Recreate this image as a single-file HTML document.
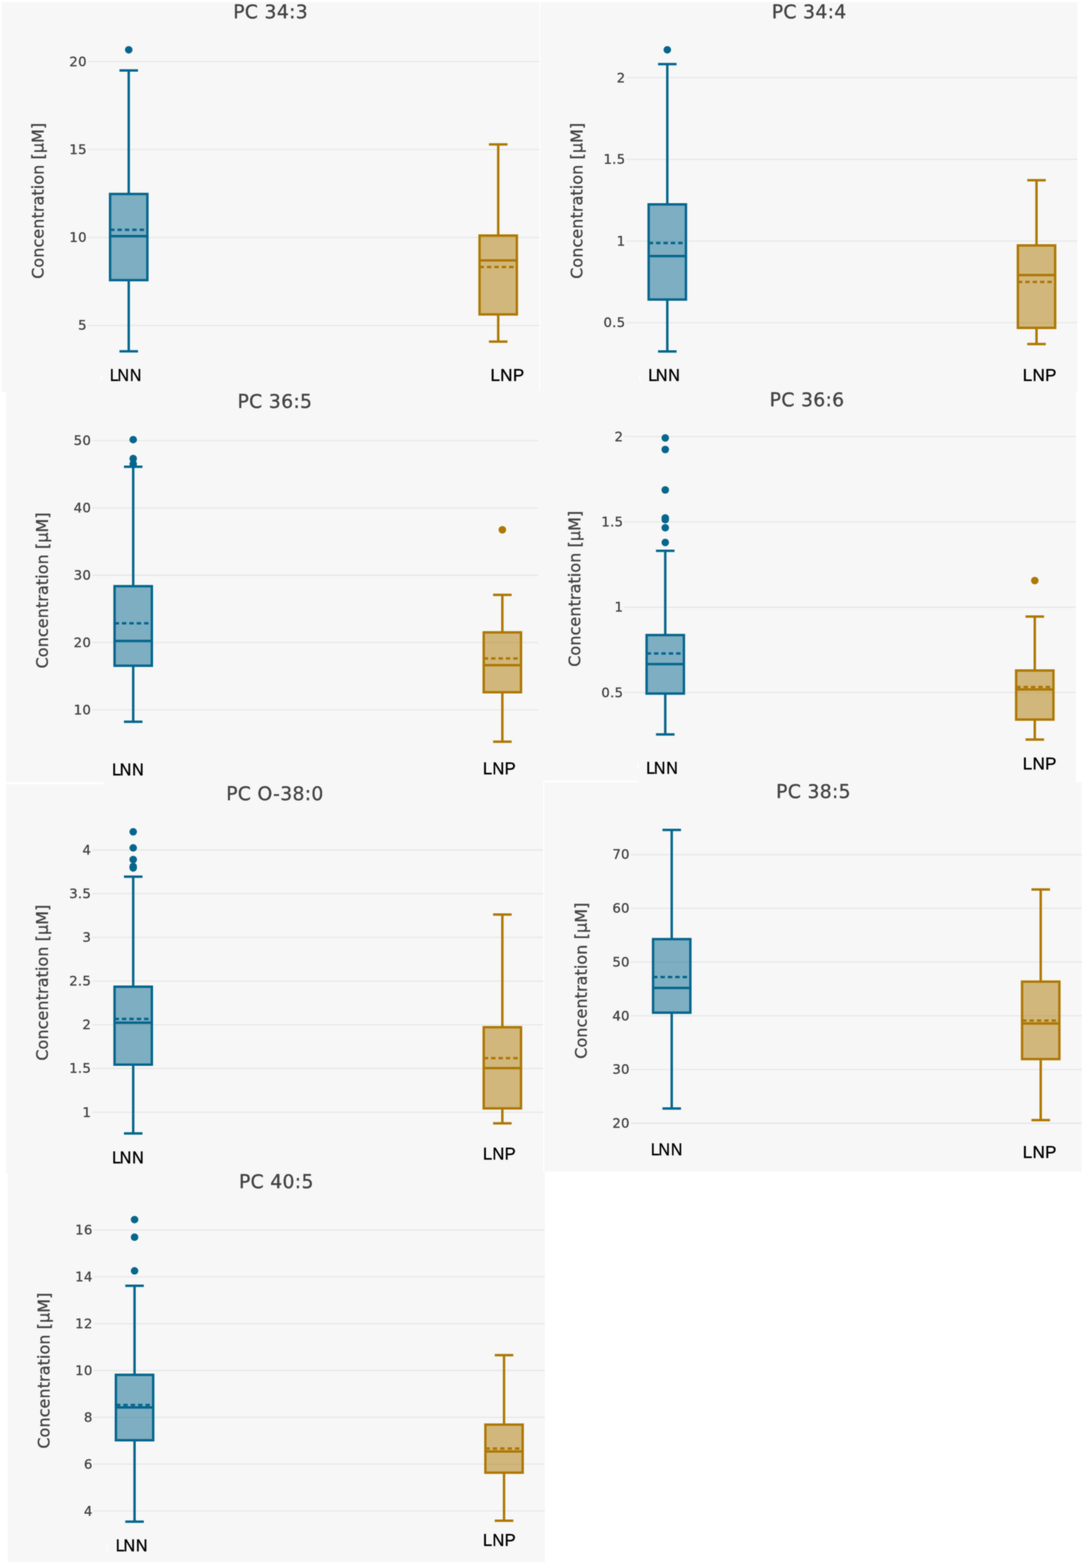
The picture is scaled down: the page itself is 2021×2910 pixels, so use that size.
<!DOCTYPE html>
<html lang="en"><head><meta charset="utf-8">
<style>
html,body{margin:0;padding:0;background:#ffffff;}
body{width:2021px;height:2910px;overflow:hidden;}
svg{display:block;}
.t{font-family:"DejaVu Sans","Liberation Sans",sans-serif;fill:#444444;stroke:#444444;stroke-width:0.55px;stroke-linejoin:round;}
.title{font-size:35px;text-anchor:middle;letter-spacing:0.5px;}
.ax{font-size:29.7px;text-anchor:middle;letter-spacing:0.15px;}
.tick{font-size:24.6px;text-anchor:end;letter-spacing:0.5px;}
.lab{font-family:"Liberation Sans","DejaVu Sans",sans-serif;font-size:31.7px;fill:#000000;stroke:#000000;stroke-width:0.6px;}
</style></head><body>
<svg width="2021" height="2910" viewBox="0 0 2021 2910">
<defs><filter id="soft" x="0" y="0" width="2021" height="2910" filterUnits="userSpaceOnUse" color-interpolation-filters="sRGB"><feGaussianBlur in="SourceGraphic" stdDeviation="0.9" result="b"/><feComposite in="SourceGraphic" in2="b" operator="arithmetic" k1="0" k2="0.4" k3="0.6" k4="0"/></filter></defs>
<rect x="0" y="0" width="2021" height="2910" fill="#ffffff"/>
<g filter="url(#soft)">
<rect x="-20" y="-20" width="2061" height="2950" fill="#ffffff"/>
<g fill="#f7f7f7">
<rect x="3" y="4" width="997.5" height="723"/>
<rect x="1002.5" y="4" width="996.9" height="723"/>
<rect x="11.3" y="727" width="996.7" height="725"/>
<rect x="998.6" y="724" width="998" height="728"/>
<rect x="11.3" y="1452" width="996.8" height="726"/>
<rect x="1009.4" y="1452" width="998.1" height="722.4"/>
<rect x="14.7" y="2175" width="996.5" height="723.7"/>
</g>
<g fill="#ffffff">
<rect x="1000.6" y="4" width="1.8" height="720"/>
<rect x="11.3" y="1451.5" width="182.7" height="3.5"/>
<rect x="1009" y="1448.5" width="176" height="3"/>
<rect x="1008.2" y="1452" width="2" height="722.4"/>
</g>
<g id="panel1">
<path d="M163 114.2H1000.5M163 277.3H1000.5M163 440.7H1000.5M163 604H1000.5" fill="none" stroke="#e8e8e8" stroke-width="2.3"/>
<path d="M238.9 130.7V360M238.9 519.9V652M221.7 130.7H256.1M221.7 652H256.1" fill="none" stroke="#05668d" stroke-width="4.5"/>
<rect x="204.3" y="360" width="69.2" height="159.9" fill="#05668d" fill-opacity="0.5" stroke="#05668d" stroke-width="4.5"/>
<path d="M204.3 438.2H273.5" fill="none" stroke="#05668d" stroke-width="4.5"/>
<path d="M204.3 426.4H273.5" fill="none" stroke="#05668d" stroke-width="4.5" stroke-dasharray="8.2 5.5"/>
<circle cx="238.9" cy="92.4" r="7" fill="#05668d"/>
<path d="M924.6 267.9V437.2M924.6 583.5V634.1M907.4 267.9H941.8M907.4 634.1H941.8" fill="none" stroke="#ad7803" stroke-width="4.5"/>
<rect x="890" y="437.2" width="69.2" height="146.3" fill="#ad7803" fill-opacity="0.5" stroke="#ad7803" stroke-width="4.5"/>
<path d="M890 483.3H959.2" fill="none" stroke="#ad7803" stroke-width="4.5"/>
<path d="M890 495.6H959.2" fill="none" stroke="#ad7803" stroke-width="4.5" stroke-dasharray="8.2 5.5"/>
<text class="t title" x="502.1" y="33.6">PC 34:3</text>
<text class="t ax" transform="translate(81 372.6) rotate(-90)" x="0" y="0">Concentration [µM]</text>
<text class="t tick" x="161.1" y="122.6">20</text>
<text class="t tick" x="161.1" y="285.7">15</text>
<text class="t tick" x="161.1" y="449.1">10</text>
<text class="t tick" x="161.1" y="612.4">5</text>
<text class="lab" transform="translate(203.65 707) scale(0.935 1)">L<tspan dx="-2.2">N</tspan><tspan dx="1.6">N</tspan></text>
<text class="lab" transform="translate(910.29 707) scale(1 1)" letter-spacing="0.45">LNP</text>
<ellipse cx="187.9" cy="701.6" rx="1.6" ry="7" fill="#ffffff" fill-opacity="0.7"/>
</g>
<g id="panel2">
<path d="M1162.5 144.2H1999.4M1162.5 295.8H1999.4M1162.5 447.4H1999.4M1162.5 598.8H1999.4" fill="none" stroke="#e8e8e8" stroke-width="2.3"/>
<path d="M1238.4 119V379.3M1238.4 555.9V652.3M1221.2 119H1255.6M1221.2 652.3H1255.6" fill="none" stroke="#05668d" stroke-width="4.5"/>
<rect x="1203.8" y="379.3" width="69.2" height="176.6" fill="#05668d" fill-opacity="0.5" stroke="#05668d" stroke-width="4.5"/>
<path d="M1203.8 475.3H1273" fill="none" stroke="#05668d" stroke-width="4.5"/>
<path d="M1203.8 450.9H1273" fill="none" stroke="#05668d" stroke-width="4.5" stroke-dasharray="8.2 5.5"/>
<circle cx="1238.4" cy="92.4" r="7" fill="#05668d"/>
<path d="M1923.6 334.6V455.5M1923.6 608.5V638.5M1906.4 334.6H1940.8M1906.4 638.5H1940.8" fill="none" stroke="#ad7803" stroke-width="4.5"/>
<rect x="1889" y="455.5" width="69.2" height="153" fill="#ad7803" fill-opacity="0.5" stroke="#ad7803" stroke-width="4.5"/>
<path d="M1889 510.4H1958.2" fill="none" stroke="#ad7803" stroke-width="4.5"/>
<path d="M1889 523.2H1958.2" fill="none" stroke="#ad7803" stroke-width="4.5" stroke-dasharray="8.2 5.5"/>
<text class="t title" x="1501.6" y="33.6">PC 34:4</text>
<text class="t ax" transform="translate(1080.5 372.6) rotate(-90)" x="0" y="0">Concentration [µM]</text>
<text class="t tick" x="1160.6" y="152.6">2</text>
<text class="t tick" x="1160.6" y="304.2">1.5</text>
<text class="t tick" x="1160.6" y="455.8">1</text>
<text class="t tick" x="1160.6" y="607.2">0.5</text>
<text class="lab" transform="translate(1202.95 707) scale(0.935 1)">L<tspan dx="-2.2">N</tspan><tspan dx="1.6">N</tspan></text>
<text class="lab" transform="translate(1898.09 707) scale(1 1)" letter-spacing="0.45">LNP</text>
<ellipse cx="1187.4" cy="701.6" rx="1.6" ry="7" fill="#ffffff" fill-opacity="0.7"/>
</g>
<g id="panel3">
<path d="M171 817.7H998.4M171 942.6H998.4M171 1067.5H998.4M171 1192.4H998.4M171 1317.3H998.4" fill="none" stroke="#e8e8e8" stroke-width="2.3"/>
<path d="M247.2 866.3V1087.9M247.2 1235.5V1339.4M230 866.3H264.4M230 1339.4H264.4" fill="none" stroke="#05668d" stroke-width="4.5"/>
<rect x="212.6" y="1087.9" width="69.2" height="147.6" fill="#05668d" fill-opacity="0.5" stroke="#05668d" stroke-width="4.5"/>
<path d="M212.6 1189.6H281.8" fill="none" stroke="#05668d" stroke-width="4.5"/>
<path d="M212.6 1156.8H281.8" fill="none" stroke="#05668d" stroke-width="4.5" stroke-dasharray="8.2 5.5"/>
<circle cx="247.2" cy="815.9" r="7" fill="#05668d"/>
<circle cx="247.2" cy="851" r="7" fill="#05668d"/>
<circle cx="247.2" cy="861" r="7" fill="#05668d"/>
<path d="M932.3 1104.1V1173.6M932.3 1284.7V1376.4M915.1 1104.1H949.5M915.1 1376.4H949.5" fill="none" stroke="#ad7803" stroke-width="4.5"/>
<rect x="897.7" y="1173.6" width="69.2" height="111.1" fill="#ad7803" fill-opacity="0.5" stroke="#ad7803" stroke-width="4.5"/>
<path d="M897.7 1234.4H966.9" fill="none" stroke="#ad7803" stroke-width="4.5"/>
<path d="M897.7 1221.9H966.9" fill="none" stroke="#ad7803" stroke-width="4.5" stroke-dasharray="8.2 5.5"/>
<circle cx="932.3" cy="983.2" r="7" fill="#ad7803"/>
<text class="t title" x="510.1" y="756.6">PC 36:5</text>
<text class="t ax" transform="translate(89 1095.6) rotate(-90)" x="0" y="0">Concentration [µM]</text>
<text class="t tick" x="169.1" y="826.1">50</text>
<text class="t tick" x="169.1" y="951">40</text>
<text class="t tick" x="169.1" y="1075.9">30</text>
<text class="t tick" x="169.1" y="1200.8">20</text>
<text class="t tick" x="169.1" y="1325.7">10</text>
<text class="lab" transform="translate(207.95 1438.7) scale(0.935 1)">L<tspan dx="-2.2">N</tspan><tspan dx="1.6">N</tspan></text>
<text class="lab" transform="translate(896.25 1437.1) scale(0.97 1)" letter-spacing="0.45">LNP</text>
</g>
<g id="panel4">
<path d="M1158.6 810.2H1996.6M1158.6 968.7H1996.6M1158.6 1127H1996.6M1158.6 1285.2H1996.6" fill="none" stroke="#e8e8e8" stroke-width="2.3"/>
<path d="M1234.6 1022.3V1178.6M1234.6 1287.2V1362.9M1217.4 1022.3H1251.8M1217.4 1362.9H1251.8" fill="none" stroke="#05668d" stroke-width="4.5"/>
<rect x="1200" y="1178.6" width="69.2" height="108.6" fill="#05668d" fill-opacity="0.5" stroke="#05668d" stroke-width="4.5"/>
<path d="M1200 1232.6H1269.2" fill="none" stroke="#05668d" stroke-width="4.5"/>
<path d="M1200 1212.8H1269.2" fill="none" stroke="#05668d" stroke-width="4.5" stroke-dasharray="8.2 5.5"/>
<circle cx="1234.6" cy="812.7" r="7" fill="#05668d"/>
<circle cx="1234.6" cy="834.3" r="7" fill="#05668d"/>
<circle cx="1234.6" cy="909.2" r="7" fill="#05668d"/>
<circle cx="1234.6" cy="961.2" r="7" fill="#05668d"/>
<circle cx="1234.6" cy="964.4" r="7" fill="#05668d"/>
<circle cx="1234.6" cy="979.4" r="7" fill="#05668d"/>
<circle cx="1234.6" cy="1006.7" r="7" fill="#05668d"/>
<path d="M1920.4 1144.2V1244.4M1920.4 1335.4V1372.6M1903.2 1144.2H1937.6M1903.2 1372.6H1937.6" fill="none" stroke="#ad7803" stroke-width="4.5"/>
<rect x="1885.8" y="1244.4" width="69.2" height="91" fill="#ad7803" fill-opacity="0.5" stroke="#ad7803" stroke-width="4.5"/>
<path d="M1885.8 1279.6H1955" fill="none" stroke="#ad7803" stroke-width="4.5"/>
<path d="M1885.8 1274.9H1955" fill="none" stroke="#ad7803" stroke-width="4.5" stroke-dasharray="8.2 5.5"/>
<circle cx="1920.4" cy="1077.5" r="7" fill="#ad7803"/>
<text class="t title" x="1497.7" y="753.6">PC 36:6</text>
<text class="t ax" transform="translate(1076.6 1092.6) rotate(-90)" x="0" y="0">Concentration [µM]</text>
<text class="t tick" x="1156.7" y="818.6">2</text>
<text class="t tick" x="1156.7" y="977.1">1.5</text>
<text class="t tick" x="1156.7" y="1135.4">1</text>
<text class="t tick" x="1156.7" y="1293.6">0.5</text>
<text class="lab" transform="translate(1199.15 1435.6) scale(0.935 1)">L<tspan dx="-2.2">N</tspan><tspan dx="1.6">N</tspan></text>
<text class="lab" transform="translate(1898.09 1427.7) scale(1 1)" letter-spacing="0.45">LNP</text>
<ellipse cx="1183.5" cy="1421.6" rx="1.6" ry="7" fill="#ffffff" fill-opacity="0.7"/>
</g>
<g id="panel5">
<path d="M171 1577.5H1008.1M171 1658.6H1008.1M171 1739.7H1008.1M171 1820.8H1008.1M171 1901.9H1008.1M171 1983H1008.1M171 2064.1H1008.1" fill="none" stroke="#e8e8e8" stroke-width="2.3"/>
<path d="M247.2 1627V1831.2M247.2 1975.8V2103.6M230 1627H264.4M230 2103.6H264.4" fill="none" stroke="#05668d" stroke-width="4.5"/>
<rect x="212.6" y="1831.2" width="69.2" height="144.6" fill="#05668d" fill-opacity="0.5" stroke="#05668d" stroke-width="4.5"/>
<path d="M212.6 1898.1H281.8" fill="none" stroke="#05668d" stroke-width="4.5"/>
<path d="M212.6 1890.9H281.8" fill="none" stroke="#05668d" stroke-width="4.5" stroke-dasharray="8.2 5.5"/>
<circle cx="247.2" cy="1543.7" r="7" fill="#05668d"/>
<circle cx="247.2" cy="1573.6" r="7" fill="#05668d"/>
<circle cx="247.2" cy="1595.2" r="7" fill="#05668d"/>
<circle cx="247.2" cy="1608" r="7" fill="#05668d"/>
<circle cx="247.2" cy="1610.8" r="7" fill="#05668d"/>
<path d="M932.3 1697.2V1906.4M932.3 2057V2084.8M915.1 1697.2H949.5M915.1 2084.8H949.5" fill="none" stroke="#ad7803" stroke-width="4.5"/>
<rect x="897.7" y="1906.4" width="69.2" height="150.6" fill="#ad7803" fill-opacity="0.5" stroke="#ad7803" stroke-width="4.5"/>
<path d="M897.7 1982.3H966.9" fill="none" stroke="#ad7803" stroke-width="4.5"/>
<path d="M897.7 1963.8H966.9" fill="none" stroke="#ad7803" stroke-width="4.5" stroke-dasharray="8.2 5.5"/>
<text class="t title" x="510.1" y="1484.6">PC O-38:0</text>
<text class="t ax" transform="translate(89 1823.6) rotate(-90)" x="0" y="0">Concentration [µM]</text>
<text class="t tick" x="169.1" y="1585.9">4</text>
<text class="t tick" x="169.1" y="1667">3.5</text>
<text class="t tick" x="169.1" y="1748.1">3</text>
<text class="t tick" x="169.1" y="1829.2">2.5</text>
<text class="t tick" x="169.1" y="1910.3">2</text>
<text class="t tick" x="169.1" y="1991.4">1.5</text>
<text class="t tick" x="169.1" y="2072.5">1</text>
<text class="lab" transform="translate(207.95 2158.7) scale(0.935 1)">L<tspan dx="-2.2">N</tspan><tspan dx="1.6">N</tspan></text>
<text class="lab" transform="translate(896.25 2151.8) scale(0.97 1)" letter-spacing="0.45">LNP</text>
</g>
<g id="panel6">
<path d="M1170.6 1586H2007.5M1170.6 1685.7H2007.5M1170.6 1785.4H2007.5M1170.6 1885.1H2007.5M1170.6 1984.8H2007.5M1170.6 2084.5H2007.5" fill="none" stroke="#e8e8e8" stroke-width="2.3"/>
<path d="M1246.6 1540.3V1742.9M1246.6 1879.4V2057.2M1229.4 1540.3H1263.8M1229.4 2057.2H1263.8" fill="none" stroke="#05668d" stroke-width="4.5"/>
<rect x="1212" y="1742.9" width="69.2" height="136.5" fill="#05668d" fill-opacity="0.5" stroke="#05668d" stroke-width="4.5"/>
<path d="M1212 1833.5H1281.2" fill="none" stroke="#05668d" stroke-width="4.5"/>
<path d="M1212 1813.2H1281.2" fill="none" stroke="#05668d" stroke-width="4.5" stroke-dasharray="8.2 5.5"/>
<path d="M1931.4 1650.8V1821.8M1931.4 1965.5V2078.8M1914.2 1650.8H1948.6M1914.2 2078.8H1948.6" fill="none" stroke="#ad7803" stroke-width="4.5"/>
<rect x="1896.8" y="1821.8" width="69.2" height="143.7" fill="#ad7803" fill-opacity="0.5" stroke="#ad7803" stroke-width="4.5"/>
<path d="M1896.8 1899.6H1966" fill="none" stroke="#ad7803" stroke-width="4.5"/>
<path d="M1896.8 1894H1966" fill="none" stroke="#ad7803" stroke-width="4.5" stroke-dasharray="8.2 5.5"/>
<text class="t title" x="1509.7" y="1481">PC 38:5</text>
<text class="t ax" transform="translate(1088.6 1820) rotate(-90)" x="0" y="0">Concentration [µM]</text>
<text class="t tick" x="1168.7" y="1594.4">70</text>
<text class="t tick" x="1168.7" y="1694.1">60</text>
<text class="t tick" x="1168.7" y="1793.8">50</text>
<text class="t tick" x="1168.7" y="1893.5">40</text>
<text class="t tick" x="1168.7" y="1993.2">30</text>
<text class="t tick" x="1168.7" y="2092.9">20</text>
<text class="lab" transform="translate(1207.65 2143.7) scale(0.935 1)">L<tspan dx="-2.2">N</tspan><tspan dx="1.6">N</tspan></text>
<text class="lab" transform="translate(1898.09 2148.7) scale(1 1)" letter-spacing="0.45">LNP</text>
</g>
<g id="panel7">
<path d="M173.7 2282.8H1011.2M173.7 2369.7H1011.2M173.7 2456.6H1011.2M173.7 2543.5H1011.2M173.7 2630.3H1011.2M173.7 2717.2H1011.2M173.7 2804.1H1011.2" fill="none" stroke="#e8e8e8" stroke-width="2.3"/>
<path d="M249.7 2386.2V2551.5M249.7 2672.9V2823.9M232.5 2386.2H266.9M232.5 2823.9H266.9" fill="none" stroke="#05668d" stroke-width="4.5"/>
<rect x="215.1" y="2551.5" width="69.2" height="121.4" fill="#05668d" fill-opacity="0.5" stroke="#05668d" stroke-width="4.5"/>
<path d="M215.1 2612.1H284.3" fill="none" stroke="#05668d" stroke-width="4.5"/>
<path d="M215.1 2607.4H284.3" fill="none" stroke="#05668d" stroke-width="4.5" stroke-dasharray="8.2 5.5"/>
<circle cx="249.7" cy="2263.4" r="7" fill="#05668d"/>
<circle cx="249.7" cy="2296" r="7" fill="#05668d"/>
<circle cx="249.7" cy="2358.6" r="7" fill="#05668d"/>
<path d="M935.4 2515V2643.9M935.4 2733.1V2822.3M918.2 2515H952.6M918.2 2822.3H952.6" fill="none" stroke="#ad7803" stroke-width="4.5"/>
<rect x="900.8" y="2643.9" width="69.2" height="89.2" fill="#ad7803" fill-opacity="0.5" stroke="#ad7803" stroke-width="4.5"/>
<path d="M900.8 2693.8H970" fill="none" stroke="#ad7803" stroke-width="4.5"/>
<path d="M900.8 2688.2H970" fill="none" stroke="#ad7803" stroke-width="4.5" stroke-dasharray="8.2 5.5"/>
<text class="t title" x="512.8" y="2204.6">PC 40:5</text>
<text class="t ax" transform="translate(91.7 2543.6) rotate(-90)" x="0" y="0">Concentration [µM]</text>
<text class="t tick" x="171.8" y="2291.2">16</text>
<text class="t tick" x="171.8" y="2378.1">14</text>
<text class="t tick" x="171.8" y="2465">12</text>
<text class="t tick" x="171.8" y="2551.9">10</text>
<text class="t tick" x="171.8" y="2638.7">8</text>
<text class="t tick" x="171.8" y="2725.6">6</text>
<text class="t tick" x="171.8" y="2812.5">4</text>
<text class="lab" transform="translate(214.85 2878.7) scale(0.935 1)">L<tspan dx="-2.2">N</tspan><tspan dx="1.6">N</tspan></text>
<text class="lab" transform="translate(896.25 2869.3) scale(0.97 1)" letter-spacing="0.45">LNP</text>
<ellipse cx="198.6" cy="2872.6" rx="1.6" ry="7" fill="#ffffff" fill-opacity="0.7"/>
</g>
</g>
</svg></body></html>
